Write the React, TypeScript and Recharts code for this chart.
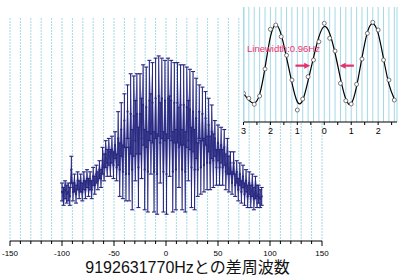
import { ComposedChart, Line, Area, XAxis, YAxis, CartesianGrid, ErrorBar, ReferenceLine } from 'recharts';

// main fringe data (offset from 9192631770 Hz)
const freqs = [
  -100, -98.5, -97, -95.5, -94, -92.5, -91, -89.5, -88, -86.5, -85, -83.5, -82, -80.5, -79, -77.5,
  -76, -74.5, -73, -71.5, -70, -68.5, -67, -65.5, -64, -62.5, -61, -59.5, -58, -56.5, -55, -53.5,
  -52, -50.5, -49, -47.5, -46, -44.5, -43, -41.5, -40, -38.5, -37, -35.5, -34, -32.5, -31, -29.5,
  -28, -26.5, -25, -23.5, -22, -20.5, -19, -17.5, -16, -14.5, -13, -11.5, -10, -8.5, -7, -5.5,
  -4, -2.5, -1, 0.5, 2, 3.5, 5, 6.5, 8, 9.5, 11, 12.5, 14, 15.5, 17, 18.5,
  20, 21.5, 23, 24.5, 26, 27.5, 29, 30.5, 32, 33.5, 35, 36.5, 38, 39.5, 41, 42.5,
  44, 45.5, 47, 48.5, 50, 51.5, 53, 54.5, 56, 57.5, 59, 60.5, 62, 63.5, 65, 66.5,
  68, 69.5, 71, 72.5, 74, 75.5, 77, 78.5, 80, 81.5, 83, 84.5, 86, 87.5, 89, 90.5, 92,
];
const signal = [
  22, 20, 23, 21, 22, 20, 32, 22, 26, 21, 27, 23, 26, 22, 27, 23,
  28, 24, 27, 23, 29, 25, 30, 27, 32, 28, 36, 33, 39, 35, 40, 35,
  41, 34, 43, 33, 46, 32, 50, 31, 54, 30, 58, 30, 57, 32, 56, 45,
  57, 33, 57, 46, 61, 32, 60, 31, 63, 48, 62, 31, 64, 30, 65, 44,
  64, 31, 63, 30, 64, 47, 63, 31, 62, 32, 62, 42, 61, 32, 61, 31,
  60, 45, 59, 33, 58, 32, 55, 32, 58, 33, 57, 34, 55, 35, 52, 35,
  49, 36, 46, 33, 44, 33, 43, 33, 42, 31, 38, 30, 35, 26, 35, 25,
  31, 23, 30, 22, 29, 21, 27, 20, 26, 20, 25, 19, 24, 20, 21, 19, 20,
];
const errors = [
  4, 4, 4, 4, 4, 4, 6, 4, 4, 4, 4, 4, 4, 4, 4, 4,
  4, 4, 4, 4, 4, 4, 4, 4, 4, 4, 6, 6, 6, 6, 6, 6,
  6, 6, 6, 6, 12, 12, 12, 12, 12, 12, 12, 12, 18, 18, 18, 18,
  18, 18, 18, 18, 18, 18, 18, 18, 18, 18, 18, 18, 18, 18, 18, 18,
  18, 18, 18, 18, 18, 18, 18, 18, 18, 18, 18, 18, 18, 18, 18, 18,
  18, 18, 18, 18, 18, 18, 18, 12, 12, 12, 12, 12, 12, 12, 12, 12,
  12, 12, 8, 8, 8, 8, 8, 8, 8, 8, 8, 8, 5, 5, 5, 5,
  5, 5, 5, 5, 5, 5, 5, 5, 5, 5, 5, 5, 5, 5, 4, 4, 4,
];
const mainTicks = [
  -150, -140, -130, -120, -110, -100, -90, -80, -70, -60, -50, -40, -30, -20, -10, 0,
  10, 20, 30, 40, 50, 60, 70, 80, 90, 100, 110, 120, 130, 140, 150,
];
const mainGrid = [
  -140, -130, -120, -110, -100, -90, -80, -70, -60, -50, -40, -30, -20, -10, 0,
  10, 20, 30, 40, 50, 60, 70, 80, 90, 100, 110, 120, 130, 140,
];

// inset: central fringes
const insetX = [
  -3.0, -2.8, -2.6, -2.4, -2.2, -2.0, -1.8, -1.6, -1.4, -1.2, -1.0, -0.8, -0.6, -0.4, -0.2,
  0, 0.2, 0.4, 0.6, 0.8, 1.0, 1.2, 1.4, 1.6, 1.8, 2.0, 2.2, 2.4, 2.6,
];
const insetFit = [
  0.25, 0.19, 0.165, 0.24, 0.47, 0.74, 0.845, 0.76, 0.56, 0.34, 0.175, 0.19, 0.36, 0.56, 0.74,
  0.83, 0.77, 0.6, 0.38, 0.2, 0.16, 0.31, 0.56, 0.78, 0.855, 0.77, 0.55, 0.33, 0.2,
];
const insetMeasured = [
  0.25, 0.206, 0.154, 0.226, 0.461, 0.806, 0.843, 0.742, 0.58, 0.365, 0.104, 0.2, 0.394, 0.539, 0.698,
  0.858, 0.728, 0.617, 0.336, 0.185, 0.157, 0.328, 0.548, 0.771, 0.867, 0.8, 0.539, 0.365, 0.191,
];
const insetTicks = [-3, -2.5, -2, -1.5, -1, -0.5, 0, 0.5, 1, 1.5, 2, 2.5];
const arrows = [
  { from: -1.07, to: -0.52, y: 0.49 },
  { from: 1.1, to: 0.57, y: 0.49 },
];

const NAVY = '#27277f';
const LAVENDER = '#8a8ac4';
const PINK = '#e8306c';
const GRID = '#a4d8e8';
const SANS = '"Liberation Sans", Arial, sans-serif';

// error band is drawn as two stacked areas: invisible base + lavender span
const mainData = freqs.map((f, i) => ({
  f,
  signal: signal[i],
  err: errors[i],
  bandBase: signal[i] - errors[i],
  bandSpan: 2 * errors[i],
}));
const insetData = insetX.map((x, i) => ({ x, fit: insetFit[i], meas: insetMeasured[i] }));

function MainTick({ x, y, payload }: any) {
  const v = payload.value;
  const major = v % 50 === 0;
  return (
    <g>
      <line x1={x} y1={y} x2={x} y2={y + (major ? 5 : 3)} stroke="#000" />
      {major && (
        <text x={x} y={y + 14.5} textAnchor="middle" fontSize={8} fontFamily={SANS} fill="#000">
          {v}
        </text>
      )}
    </g>
  );
}

function InsetTick({ x, y, payload }: any) {
  const v = payload.value;
  const major = Number.isInteger(v);
  return (
    <g>
      <line x1={x} y1={y} x2={x} y2={y + 3} stroke="#000" />
      {major && (
        <text x={x} y={y + 12} textAnchor="middle" fontSize={9} fontFamily={SANS} fill="#000">
          {Math.abs(v)}
        </text>
      )}
    </g>
  );
}

function Arrow(props: any) {
  const { x1, y1, x2, y2 } = props;
  const dir = Math.sign(x2 - x1);
  return (
    <g>
      <line x1={x1} y1={y1} x2={x2 - dir * 4} y2={y2} stroke={PINK} strokeWidth={2.2} />
      <polygon points={`${x2},${y2} ${x2 - dir * 6},${y2 - 3} ${x2 - dir * 6},${y2 + 3}`} fill={PINK} />
    </g>
  );
}

export default function App() {
  return (
    <div style={{ position: 'absolute', left: 0, top: 0, width: 398, height: 278, background: '#fff' }}>
      <div style={{ position: 'absolute', left: 0, top: 0 }}>
        <ComposedChart width={398} height={278} data={mainData} margin={{ top: 18, right: 76, bottom: 0, left: 10 }}>
          <XAxis xAxisId="grid" dataKey="f" type="number" domain={[-150, 150]} ticks={mainGrid} interval={0} hide />
          <CartesianGrid xAxisId="grid" horizontal={false} stroke={GRID} strokeDasharray="2 1" />
          <XAxis
            dataKey="f"
            type="number"
            domain={[-150, 150]}
            ticks={mainTicks}
            interval={0}
            height={37}
            tickSize={0}
            tickMargin={0}
            tickLine={false}
            tick={<MainTick />}
            axisLine={{ stroke: '#000' }}
          />
          <YAxis domain={[0, 100]} width={0} tick={false} tickLine={false} axisLine={{ stroke: '#222', strokeWidth: 1.5 }} />
          <Area dataKey="bandBase" stackId="band" type="linear" stroke="none" fill="none" fillOpacity={0} isAnimationActive={false} />
          <Area dataKey="bandSpan" stackId="band" type="linear" stroke="none" fill={LAVENDER} fillOpacity={1} isAnimationActive={false} />
          <Line
            dataKey="signal"
            stroke={NAVY}
            strokeWidth={0.8}
            dot={{ r: 1.1, fill: NAVY, stroke: 'none' }}
            isAnimationActive={false}
          >
            <ErrorBar dataKey="err" direction="y" width={2} stroke={NAVY} strokeWidth={1.1} isAnimationActive={false} />
          </Line>
        </ComposedChart>
      </div>
      <div
        style={{
          position: 'absolute',
          left: 0,
          top: 259,
          width: 375,
          textAlign: 'center',
          fontFamily: '"Liberation Sans", "Noto Sans CJK JP", sans-serif',
          fontSize: 16,
          lineHeight: '18px',
          color: '#111',
        }}
      >
        9192631770Hzとの差周波数
      </div>
      <div style={{ position: 'absolute', left: 0, top: 0 }}>
        <ComposedChart width={398} height={140} data={insetData} margin={{ top: 7, right: 1, bottom: 0, left: 244 }}>
          <XAxis xAxisId="grid" dataKey="x" type="number" domain={[-2.98, 2.7]} ticks={insetX} interval={0} hide allowDataOverflow />
          <CartesianGrid xAxisId="grid" horizontal={false} stroke={GRID} fill="#fff" />
          <XAxis
            dataKey="x"
            type="number"
            domain={[-2.98, 2.7]}
            ticks={insetTicks}
            interval={0}
            height={18}
            tickSize={0}
            tickMargin={0}
            tickLine={false}
            tick={<InsetTick />}
            axisLine={{ stroke: '#000' }}
            allowDataOverflow
          />
          <YAxis domain={[0, 1]} width={0} tick={false} tickLine={false} axisLine={{ stroke: '#222', strokeWidth: 1.5 }} />
          {arrows.map((a, i) => (
            <ReferenceLine
              key={i}
              segment={[{ x: a.from, y: a.y }, { x: a.to, y: a.y }]}
              shape={<Arrow />}
            />
          ))}
          <Line dataKey="fit" type="natural" stroke="#000" strokeWidth={1.2} dot={false} isAnimationActive={false} />
          <Line
            dataKey="meas"
            stroke="none"
            dot={{ r: 2, fill: '#fff', stroke: '#555', strokeWidth: 0.8 }}
            isAnimationActive={false}
          />
        </ComposedChart>
      </div>
      <div
        style={{
          position: 'absolute',
          left: 247,
          top: 44,
          fontFamily: SANS,
          fontSize: 9.5,
          lineHeight: '10px',
          color: PINK,
        }}
      >
        Linewidth:0.96Hz
      </div>
    </div>
  );
}
